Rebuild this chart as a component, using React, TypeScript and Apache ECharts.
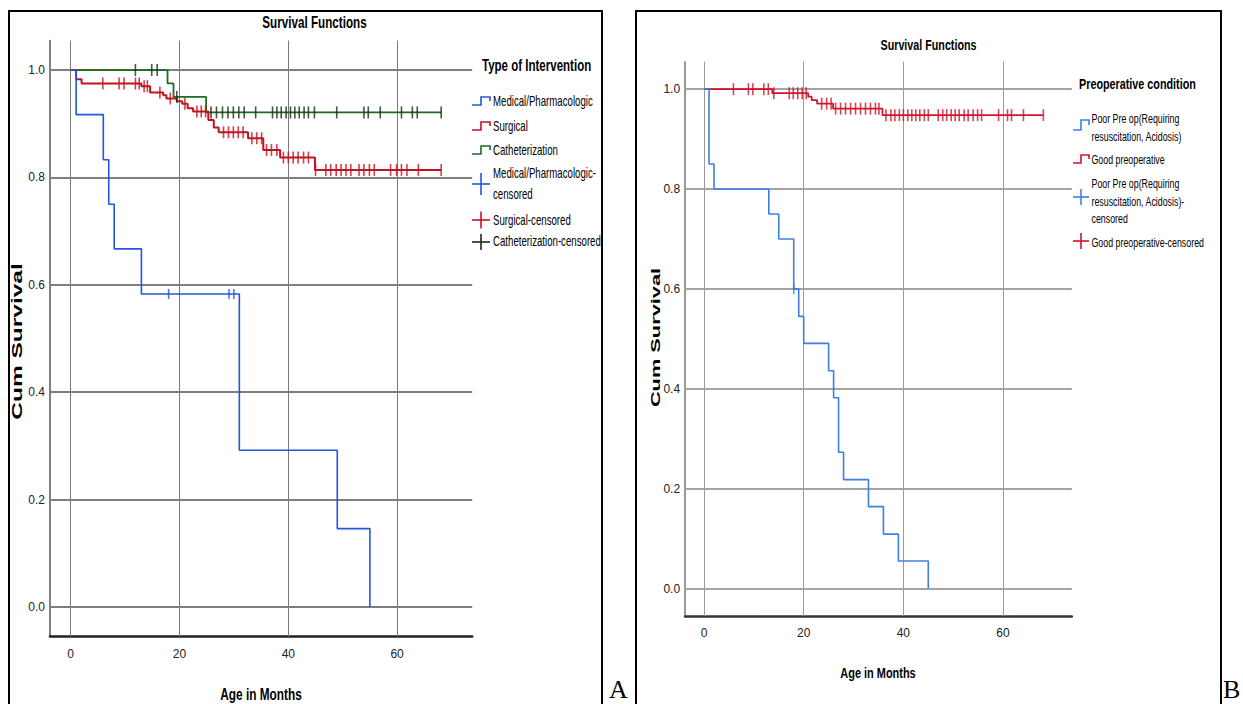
import React, { useEffect, useRef } from "react";
import * as echarts from "echarts";

// ---------- ticks ----------
const xTicks = [0, 20, 40, 60];
const yTicks = [0, 0.2, 0.4, 0.6, 0.8, 1.0];

// ---------- Panel A : Type of Intervention ----------
const medicalTimes = [0, 1, 6, 7, 8, 13, 31, 49, 55];
const medicalSurv = [1, 0.917, 0.833, 0.75, 0.667, 0.583, 0.292, 0.146, 0];
const medicalCensored = [[18, 0.583], [29.1, 0.583], [30, 0.583]];

const surgicalTimes = [0, 1, 2, 13, 14.6, 17, 17.6, 19.5, 20.5, 21.5, 22.5, 25.3, 26.3, 27.2, 32.6, 35.4, 38.5, 44.9, 68.1];
const surgicalSurv = [1, 0.983, 0.975, 0.970, 0.958, 0.953, 0.947, 0.942, 0.937, 0.929, 0.923, 0.907, 0.893, 0.884, 0.873, 0.851, 0.837, 0.814, 0.814];
const surgicalCensored = [
  [5.9, 0.975], [8.9, 0.975], [9.8, 0.975], [11.9, 0.975], [12.6, 0.975],
  [13.5, 0.970], [14.1, 0.970], [16.4, 0.958], [18.3, 0.947], [21, 0.937],
  [23.2, 0.923], [24.0, 0.923], [24.8, 0.923],
  [28.1, 0.884], [29.0, 0.884], [29.9, 0.884], [30.8, 0.884], [31.7, 0.884],
  [33.3, 0.873], [34.2, 0.873], [35.1, 0.873],
  [36.0, 0.851], [36.9, 0.851], [37.9, 0.851],
  [39.1, 0.837], [40.0, 0.837], [40.9, 0.837], [41.8, 0.837], [42.8, 0.837], [43.7, 0.837],
  [45, 0.814], [46.9, 0.814], [47.8, 0.814], [48.8, 0.814], [49.7, 0.814], [50.6, 0.814],
  [51.5, 0.814], [53.0, 0.814], [53.9, 0.814], [54.9, 0.814], [55.8, 0.814], [58.8, 0.814],
  [59.9, 0.814], [60.8, 0.814], [61.8, 0.814], [63.9, 0.814], [68.1, 0.814],
];

const catheterTimes = [0, 17.8, 18.9, 24.9, 68.1];
const catheterSurv = [1, 0.975, 0.950, 0.921, 0.921];
const catheterCensored = [
  [11.9, 1], [14.9, 1], [15.9, 1], [19.5, 0.95],
  [25.8, 0.921], [26.8, 0.921], [27.9, 0.921], [28.9, 0.921], [29.9, 0.921], [30.9, 0.921],
  [31.9, 0.921], [34.0, 0.921], [37.1, 0.921], [37.9, 0.921], [38.7, 0.921], [39.6, 0.921],
  [40.4, 0.921], [41.2, 0.921], [42.0, 0.921], [42.9, 0.921], [43.7, 0.921], [44.8, 0.921],
  [48.9, 0.921], [53.9, 0.921], [54.7, 0.921], [56.9, 0.921], [60.8, 0.921], [62.8, 0.921],
  [63.7, 0.921], [68.1, 0.921],
];

// ---------- Panel B : Preoperative condition ----------
const poorTimes = [0, 1, 2, 13, 15, 18, 19, 20, 25, 26, 27, 28, 33, 36, 39, 45];
const poorSurv = [1, 0.85, 0.80, 0.75, 0.70, 0.60, 0.545, 0.491, 0.436, 0.382, 0.273, 0.218, 0.164, 0.109, 0.055, 0];
const poorCensored = [[18, 0.6]];

const goodTimes = [0, 13.7, 20.9, 21.6, 22.7, 25.9, 35.8, 68.1];
const goodSurv = [1, 0.992, 0.985, 0.978, 0.971, 0.961, 0.948, 0.948];
const goodCensored = [
  [5.9, 1], [8.9, 1], [9.8, 1], [12.0, 1], [12.9, 1],
  [14.0, 0.992], [17.1, 0.992], [17.9, 0.992], [18.8, 0.992], [19.7, 0.992], [20.5, 0.992],
  [23.6, 0.971], [24.6, 0.971], [25.5, 0.971],
  [26.4, 0.961], [27.4, 0.961], [28.4, 0.961], [29.4, 0.961], [30.4, 0.961], [31.4, 0.961],
  [32.4, 0.961], [33.4, 0.961], [34.4, 0.961], [35.1, 0.961],
  [36.5, 0.948], [37.5, 0.948], [38.3, 0.948], [39.2, 0.948], [40.0, 0.948], [40.9, 0.948],
  [41.7, 0.948], [42.5, 0.948], [43.3, 0.948], [44.2, 0.948], [45.0, 0.948], [47.0, 0.948],
  [47.9, 0.948], [48.7, 0.948], [49.6, 0.948], [50.4, 0.948], [51.2, 0.948], [52.2, 0.948],
  [53.0, 0.948], [54.0, 0.948], [54.9, 0.948], [55.7, 0.948], [59.1, 0.948], [60.9, 0.948],
  [61.7, 0.948], [64.1, 0.948], [68.1, 0.948],
];

const legendA = ["Medical/Pharmacologic", "Surgical", "Catheterization", "Medical/Pharmacologic-", "censored", "Surgical-censored", "Catheterization-censored"];
const legendB = ["Poor Pre op(Requiring", "resuscitation, Acidosis)", "Good preoperative", "Poor Pre op(Requiring", "resuscitation, Acidosis)-", "censored", "Good preoperative-censored"];

const SANS = "'Liberation Sans', Arial, sans-serif";
const SERIF = "'Liberation Serif', 'Times New Roman', serif";

const C = {
  blueA: "#2455e0",
  redA: "#c4121f",
  greenA: "#1f6b1f",
  censA: "#1a2a1a",
  blueB: "#3f7fe6",
  redB: "#d1142c",
};

function steps(times: number[], surv: number[]) {
  return times.map((t, i) => [t, surv[i]]);
}

function txt(text: string, x: number, y: number, o: any = {}) {
  const align = o.align || "left";
  return {
    type: "text",
    x,
    y,
    scaleX: o.sx ?? 1,
    scaleY: o.sy ?? 1,
    rotation: o.rot ?? 0,
    silent: true,
    z: 10,
    style: {
      text,
      fontSize: o.size || 14,
      fontWeight: o.bold ? "bold" : "normal",
      fontFamily: o.family || SANS,
      fill: o.color || "#000",
      align,
      textAlign: align,
      verticalAlign: "middle",
      textVerticalAlign: "middle",
    },
  };
}

function stepIcon(x0: number, x1: number, yTop: number, yBot: number, color: string) {
  const xm = (x0 + x1) / 2;
  return {
    type: "polyline",
    silent: true,
    z: 10,
    shape: { points: [[x0, yBot], [xm, yBot], [xm, yTop], [x1, yTop], [x1, (yTop + yBot) / 2]] },
    style: { stroke: color, lineWidth: 1.6, fill: "none" },
  };
}

function plusIcon(x0: number, x1: number, cy: number, h: number, color: string) {
  const xm = (x0 + x1) / 2;
  return [
    { type: "line", silent: true, z: 10, shape: { x1: x0, y1: cy, x2: x1, y2: cy }, style: { stroke: color, lineWidth: 1.6 } },
    { type: "line", silent: true, z: 10, shape: { x1: xm, y1: cy - h, x2: xm, y2: cy + h }, style: { stroke: color, lineWidth: 1.6 } },
  ];
}

function gridLineSeries(idx: number, vColor: string, hColor: string) {
  return {
    type: "line",
    xAxisIndex: idx,
    yAxisIndex: idx,
    data: [[0, 0]],
    symbol: "none",
    lineStyle: { width: 0, opacity: 0 },
    silent: true,
    z: 1,
    markLine: {
      silent: true,
      animation: false,
      z: 1,
      symbol: ["none", "none"],
      label: { show: false },
      emphasis: { disabled: true },
      data: [
        ...xTicks.map((v) => ({ xAxis: v, lineStyle: { color: vColor, width: 1, type: "solid" } })),
        ...yTicks.map((v) => ({ yAxis: v, lineStyle: { color: hColor, width: 2, type: "solid" } })),
      ],
    },
  };
}

function stepSeries(idx: number, times: number[], surv: number[], color: string, width: number) {
  return {
    type: "line",
    step: "end",
    xAxisIndex: idx,
    yAxisIndex: idx,
    data: steps(times, surv),
    symbol: "none",
    silent: true,
    z: 6,
    lineStyle: { color, width },
  };
}

function censSeries(idx: number, data: number[][], color: string, h: number) {
  return {
    type: "scatter",
    xAxisIndex: idx,
    yAxisIndex: idx,
    data,
    symbol: "rect",
    symbolSize: [1.6, h],
    silent: true,
    z: 7,
    itemStyle: { color },
  };
}

function xAxisCfg(idx: number, lineColor: string) {
  return {
    gridIndex: idx,
    type: "value",
    min: -3.8,
    max: 73.8,
    axisLine: { show: true, onZero: false, lineStyle: { color: lineColor, width: 2.5 } },
    axisTick: { show: false },
    splitLine: { show: false },
    axisLabel: { customValues: xTicks, margin: 11, fontSize: 12, fontFamily: SANS, color: "#222" },
  };
}

function yAxisCfg(idx: number, lineColor: string) {
  return {
    gridIndex: idx,
    type: "value",
    min: -0.055,
    max: 1.055,
    axisLine: { show: true, onZero: false, lineStyle: { color: lineColor, width: 1.5 } },
    axisTick: { show: false },
    splitLine: { show: false },
    axisLabel: {
      customValues: yTicks,
      margin: 5,
      fontSize: 12,
      fontFamily: SANS,
      color: "#222",
      formatter: (v: number) => v.toFixed(1),
    },
  };
}

export default function App() {
  const ref = useRef<HTMLDivElement>(null);

  useEffect(() => {
    if (!ref.current) return;
    const chart = echarts.init(ref.current, null, { renderer: "svg" });

    const graphic: any[] = [
      // panel borders
      { type: "rect", silent: true, z: 10, shape: { x: 9, y: 11, width: 593, height: 720 }, style: { fill: "none", stroke: "#000", lineWidth: 2 } },
      { type: "rect", silent: true, z: 10, shape: { x: 636, y: 11, width: 585, height: 720 }, style: { fill: "none", stroke: "#000", lineWidth: 2 } },
      // titles
      txt("Survival Functions", 314.5, 22.5, { size: 16, bold: true, align: "center", sx: 0.73 }),
      txt("Survival Functions", 928.5, 45, { size: 15, bold: true, align: "center", sx: 0.716 }),
      // axis names
      txt("Age in Months", 261, 694, { size: 16, bold: true, align: "center", sx: 0.74 }),
      txt("Age in Months", 878, 673, { size: 15, bold: true, align: "center", sx: 0.73 }),
      txt("Cum Survival", 17, 341.5, { size: 24.5, bold: true, align: "center", rot: Math.PI / 2, sy: 0.62 }),
      txt("Cum Survival", 656, 337.5, { size: 21.8, bold: true, align: "center", rot: Math.PI / 2, sy: 0.62 }),
      // panel letters
      txt("A", 609, 689, { size: 26, family: SERIF }),
      txt("B", 1223, 689, { size: 26, family: SERIF }),
      // legend A
      txt("Type of Intervention", 482, 65, { size: 16, bold: true, sx: 0.72 }),
      stepIcon(472, 490, 97, 105, C.blueA),
      txt(legendA[0], 493, 101, { size: 14, sx: 0.69 }),
      stepIcon(472, 490, 122, 130, C.redA),
      txt(legendA[1], 493, 126, { size: 14, sx: 0.69 }),
      stepIcon(472, 490, 146, 154, C.greenA),
      txt(legendA[2], 493, 150, { size: 14, sx: 0.69 }),
      ...plusIcon(472, 490, 184, 11, C.blueA),
      txt(legendA[3], 493, 173.5, { size: 14, sx: 0.69 }),
      txt(legendA[4], 493, 194, { size: 14, sx: 0.69 }),
      ...plusIcon(472, 490, 220, 8.5, C.redA),
      txt(legendA[5], 493, 220, { size: 14, sx: 0.69 }),
      ...plusIcon(472, 490, 242, 8, C.censA),
      txt(legendA[6], 493, 241.7, { size: 14, sx: 0.69 }),
      // legend B
      txt("Preoperative condition", 1079, 83.5, { size: 15, bold: true, sx: 0.72 }),
      stepIcon(1073, 1089, 120, 130, C.blueB),
      txt(legendB[0], 1091.5, 118, { size: 13, sx: 0.68 }),
      txt(legendB[1], 1091.5, 136, { size: 13, sx: 0.68 }),
      stepIcon(1073, 1089, 155, 163, C.redB),
      txt(legendB[2], 1091.5, 159, { size: 13, sx: 0.68 }),
      ...plusIcon(1073, 1089, 197, 8, C.blueB),
      txt(legendB[3], 1091.5, 183, { size: 13, sx: 0.68 }),
      txt(legendB[4], 1091.5, 201, { size: 13, sx: 0.68 }),
      txt(legendB[5], 1091.5, 218, { size: 13, sx: 0.68 }),
      ...plusIcon(1073, 1089, 241, 8, C.redB),
      txt(legendB[6], 1091.5, 242, { size: 13, sx: 0.68 }),
    ];

    chart.setOption({
      animation: false,
      backgroundColor: "#ffffff",
      grid: [
        { left: 50, top: 40.5, width: 422.2, height: 596, containLabel: false },
        { left: 685.1, top: 61.7, width: 386.7, height: 554.3, containLabel: false },
      ],
      xAxis: [xAxisCfg(0, "#222"), xAxisCfg(1, "#333")],
      yAxis: [yAxisCfg(0, "#555"), yAxisCfg(1, "#777")],
      series: [
        gridLineSeries(0, "#7a7a7a", "#7f7f7f"),
        gridLineSeries(1, "#9a9a9a", "#a3a3a3"),
        stepSeries(0, catheterTimes, catheterSurv, C.greenA, 1.8),
        stepSeries(0, surgicalTimes, surgicalSurv, C.redA, 2),
        stepSeries(0, medicalTimes, medicalSurv, C.blueA, 1.6),
        censSeries(0, catheterCensored, C.censA, 12),
        censSeries(0, surgicalCensored, C.redA, 12),
        censSeries(0, medicalCensored, C.blueA, 10),
        stepSeries(1, goodTimes, goodSurv, C.redB, 1.8),
        stepSeries(1, poorTimes, poorSurv, C.blueB, 1.6),
        censSeries(1, goodCensored, C.redB, 12),
        censSeries(1, poorCensored, C.blueB, 10),
      ],
      graphic,
    });

    return () => chart.dispose();
  }, []);

  return (
    <div
      ref={ref}
      style={{ position: "fixed", left: 0, top: 0, width: 1243, height: 704, background: "#fff" }}
    />
  );
}
